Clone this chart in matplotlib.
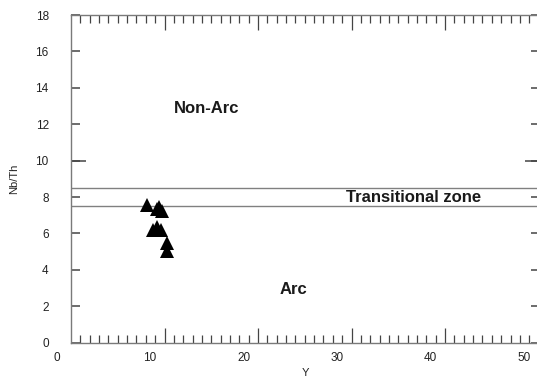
import matplotlib
matplotlib.use("Agg")
import matplotlib.pyplot as plt
from matplotlib.ticker import MultipleLocator, FixedLocator, NullFormatter
import matplotlib.transforms as mtransforms

plt.rcParams['font.family'] = ['Liberation Sans', 'DejaVu Sans']

# Sample data: Y (ppm) vs Nb/Th
y_ppm = [9.71, 10.99, 11.25, 10.78, 10.35, 11.14, 10.72, 11.79, 11.85]
nb_th = [7.57, 7.48, 7.26, 7.34, 6.20, 6.20, 6.38, 5.47, 5.06]

x_tick_labels = [0, 10, 20, 30, 40, 50]
y_tick_labels = [0, 2, 4, 6, 8, 10, 12, 14, 16, 18]
zone_bounds = [7.5, 8.5]

XMIN, XMAX = 1.55, 51.65
YMIN, YMAX = 0, 18

W, H = 537, 378
fig = plt.figure(figsize=(W / 100, H / 100), dpi=100)
ax = fig.add_axes([71 / W, 35.3 / H, (539.5 - 71) / W, (342.7 - 15) / H])
ax.set_xlim(XMIN, XMAX)
ax.set_ylim(YMIN, YMAX)

spine_col = '#7a7a7a'
tick_col = '#444444'
for s in ax.spines.values():
    s.set_color(spine_col)
    s.set_linewidth(1.0)

# frame ticks: inward on all sides, counted from the left edge of the frame
major_x = [XMIN + 10 * k for k in range(1, 6)]
minor_x = [XMIN + k for k in range(1, 51)]
ax.xaxis.set_major_locator(FixedLocator(major_x))
ax.xaxis.set_minor_locator(FixedLocator(minor_x))
ax.xaxis.set_major_formatter(NullFormatter())
ax.tick_params(axis='x', which='major', direction='in', length=10.8, width=0.9,
               color=tick_col, top=True, bottom=True)
ax.tick_params(axis='x', which='minor', direction='in', length=5.8, width=0.9,
               color=tick_col, top=True, bottom=True)

ax.yaxis.set_major_locator(FixedLocator(y_tick_labels))
ax.yaxis.set_minor_locator(FixedLocator([10]))
ax.yaxis.remove_overlapping_locs = False
ax.set_yticklabels([str(v) for v in y_tick_labels])
ax.tick_params(axis='y', which='major', direction='in', length=6.2, width=1.1,
               color=tick_col, left=True, right=True, labelsize=8.5, pad=16,
               labelcolor='#222222')
ax.tick_params(axis='y', which='minor', direction='in', length=10.8, width=1.1,
               color=tick_col, left=True, right=True)

# value labels along the bottom
trans = mtransforms.blended_transform_factory(ax.transData, ax.transAxes)
for v in x_tick_labels:
    ax.text(v, -0.047, str(v), transform=trans, ha='center', va='center',
            fontsize=8.5, color='#222222', clip_on=False)

ax.set_xlabel('Y', fontsize=8, color='#222222', labelpad=15)
ax.set_ylabel('Nb/Th', fontsize=8, color='#222222', labelpad=12)

# transitional zone boundaries
for b in zone_bounds:
    ax.axhline(b, color='#808080', lw=1.0, zorder=1)

ax.plot(y_ppm, nb_th, linestyle='none', marker='^', markersize=10.5,
        color='black', markeredgewidth=0, zorder=3, clip_on=False)

txt_kw = dict(fontsize=12, fontweight='bold', color='#1a1a1a', ha='center', va='center')
ax.text(16.0, 12.84, 'Non-Arc', **txt_kw)
ax.text(38.2, 8.0, 'Transitional zone', **txt_kw)
ax.text(25.3, 2.93, 'Arc', **txt_kw)

fig.savefig('out.png', dpi=100)
